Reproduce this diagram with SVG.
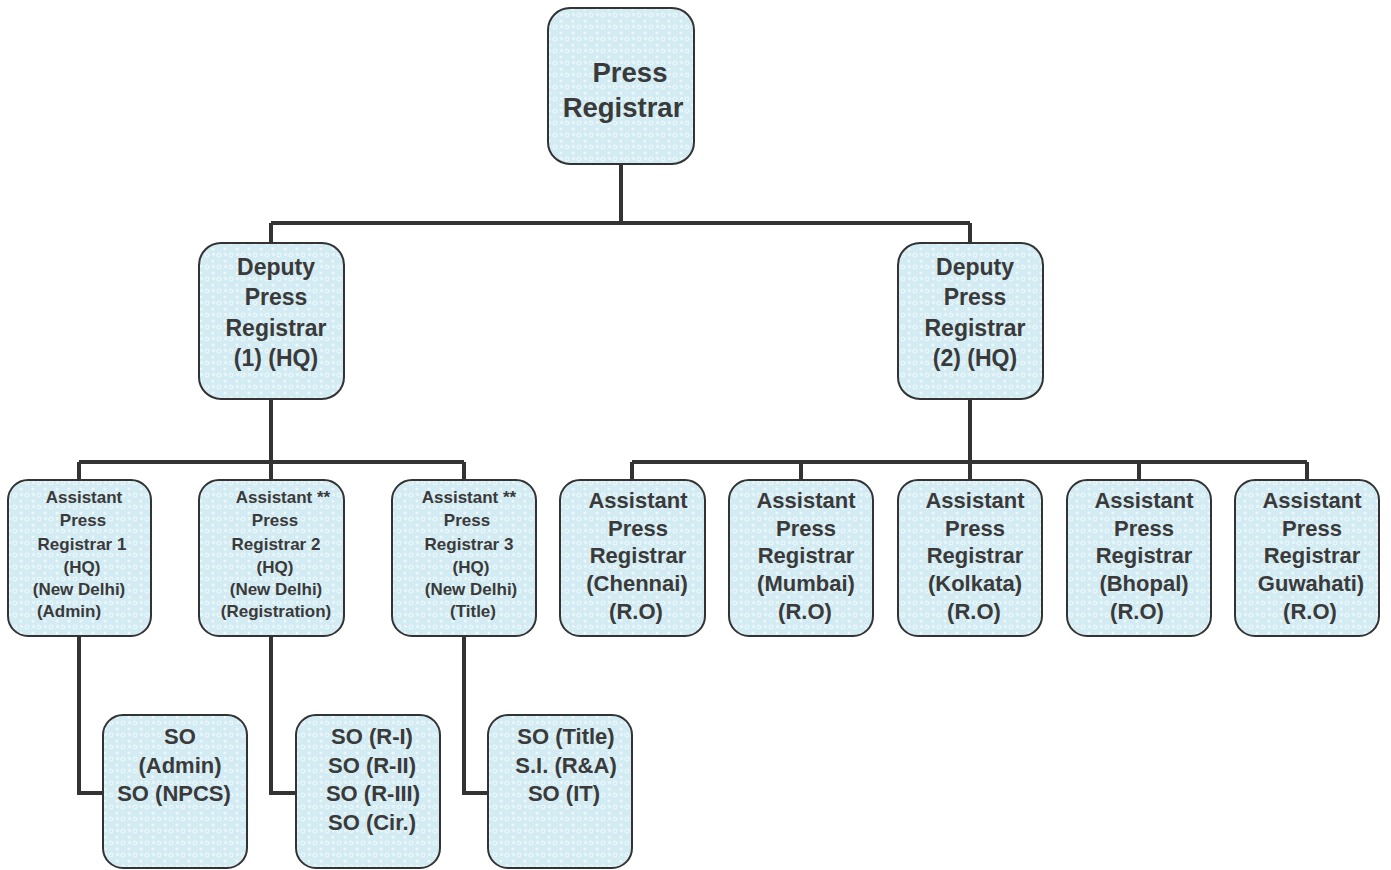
<svg xmlns="http://www.w3.org/2000/svg" width="1391" height="870" viewBox="0 0 1391 870">
<defs>
<pattern id="pat" width="12" height="12" patternUnits="userSpaceOnUse">
<rect width="12" height="12" fill="#d3ebf2"/>
<circle cx="3" cy="3" r="2" fill="none" stroke="#f2fafc" stroke-width="1"/>
<circle cx="9" cy="9" r="1.6" fill="#eef8fb"/>
<rect x="8" y="1" width="3" height="3" rx="1" fill="#e8f5f9"/>
</pattern>
<style>
.n{fill:url(#pat);stroke:#333;stroke-width:2}
.t{font-family:"Liberation Sans",Arial,sans-serif;font-weight:bold;fill:#3a3a3a;text-anchor:middle}
.c{fill:none;stroke:#333;stroke-width:4}
</style>
</defs>
<rect width="1391" height="870" fill="#fff"/>
<g id="connectors" class="c">
<path d="M621 164V223M271 223H970M271 223V243M970 223V243"/>
<path d="M271 399V462M79 462H464M79 462V480M271 462V480M464 462V480"/>
<path d="M970 399V462M632 462H1307M632 462V480M801 462V480M970 462V480M1139 462V480M1307 462V480"/>
<path d="M79 636V793H103M271 636V793H296M464 636V793H488"/>
</g>
<g id="press-registrar">
<rect class="n" x="548" y="8" width="146" height="156" rx="22"/>
<text class="t" font-size="27.5"><tspan x="630" y="82">Press</tspan><tspan x="623" y="117">Registrar</tspan></text>
</g>
<g id="dpr1">
<rect class="n" x="199" y="243" width="145" height="156" rx="22"/>
<text class="t" font-size="23"><tspan x="276" y="275">Deputy</tspan><tspan x="276" y="305">Press</tspan><tspan x="276" y="336">Registrar</tspan><tspan x="276" y="366">(1) (HQ)</tspan></text>
</g>
<g id="dpr2">
<rect class="n" x="898" y="243" width="145" height="156" rx="22"/>
<text class="t" font-size="23"><tspan x="975" y="275">Deputy</tspan><tspan x="975" y="305">Press</tspan><tspan x="975" y="336">Registrar</tspan><tspan x="975" y="366">(2) (HQ)</tspan></text>
</g>
<g id="apr1">
<rect class="n" x="8" y="480" width="143" height="156" rx="20"/>
<text class="t" font-size="17"><tspan x="84" y="503">Assistant</tspan><tspan x="83" y="526">Press</tspan><tspan x="82" y="550">Registrar 1</tspan><tspan x="82" y="573">(HQ)</tspan><tspan x="79" y="595">(New Delhi)</tspan><tspan x="69" y="617">(Admin)</tspan></text>
</g>
<g id="apr2">
<rect class="n" x="199" y="480" width="145" height="156" rx="20"/>
<text class="t" font-size="17"><tspan x="283" y="503">Assistant **</tspan><tspan x="275" y="526">Press</tspan><tspan x="276" y="550">Registrar 2</tspan><tspan x="275" y="573">(HQ)</tspan><tspan x="276" y="595">(New Delhi)</tspan><tspan x="276" y="617">(Registration)</tspan></text>
</g>
<g id="apr3">
<rect class="n" x="392" y="480" width="144" height="156" rx="20"/>
<text class="t" font-size="17"><tspan x="469" y="503">Assistant **</tspan><tspan x="467" y="526">Press</tspan><tspan x="469" y="550">Registrar 3</tspan><tspan x="471" y="573">(HQ)</tspan><tspan x="471" y="595">(New Delhi)</tspan><tspan x="473" y="617">(Title)</tspan></text>
</g>
<g id="apr-chennai">
<rect class="n" x="560" y="480" width="145" height="156" rx="20"/>
<text class="t" font-size="22"><tspan x="638" y="508">Assistant</tspan><tspan x="638" y="536">Press</tspan><tspan x="638" y="563">Registrar</tspan><tspan x="637" y="591">(Chennai)</tspan><tspan x="636" y="619">(R.O)</tspan></text>
</g>
<g id="apr-mumbai">
<rect class="n" x="729" y="480" width="144" height="156" rx="20"/>
<text class="t" font-size="22"><tspan x="806" y="508">Assistant</tspan><tspan x="806" y="536">Press</tspan><tspan x="806" y="563">Registrar</tspan><tspan x="806" y="591">(Mumbai)</tspan><tspan x="805" y="619">(R.O)</tspan></text>
</g>
<g id="apr-kolkata">
<rect class="n" x="898" y="480" width="144" height="156" rx="20"/>
<text class="t" font-size="22"><tspan x="975" y="508">Assistant</tspan><tspan x="975" y="536">Press</tspan><tspan x="975" y="563">Registrar</tspan><tspan x="975" y="591">(Kolkata)</tspan><tspan x="974" y="619">(R.O)</tspan></text>
</g>
<g id="apr-bhopal">
<rect class="n" x="1067" y="480" width="144" height="156" rx="20"/>
<text class="t" font-size="22"><tspan x="1144" y="508">Assistant</tspan><tspan x="1144" y="536">Press</tspan><tspan x="1144" y="563">Registrar</tspan><tspan x="1144" y="591">(Bhopal)</tspan><tspan x="1137" y="619">(R.O)</tspan></text>
</g>
<g id="apr-guwahati">
<rect class="n" x="1235" y="480" width="144" height="156" rx="20"/>
<text class="t" font-size="22"><tspan x="1312" y="508">Assistant</tspan><tspan x="1312" y="536">Press</tspan><tspan x="1312" y="563">Registrar</tspan><tspan x="1311" y="591">Guwahati)</tspan><tspan x="1310" y="619">(R.O)</tspan></text>
</g>
<g id="so-admin">
<rect class="n" x="103" y="715" width="144" height="153" rx="20"/>
<text class="t" font-size="22"><tspan x="180" y="744">SO</tspan><tspan x="180" y="773">(Admin)</tspan><tspan x="174" y="801">SO (NPCS)</tspan></text>
</g>
<g id="so-reg">
<rect class="n" x="296" y="715" width="144" height="153" rx="20"/>
<text class="t" font-size="22"><tspan x="372" y="744">SO (R-I)</tspan><tspan x="372" y="773">SO (R-II)</tspan><tspan x="373" y="801">SO (R-III)</tspan><tspan x="372" y="830">SO (Cir.)</tspan></text>
</g>
<g id="so-title">
<rect class="n" x="488" y="715" width="144" height="153" rx="20"/>
<text class="t" font-size="22"><tspan x="566" y="744">SO (Title)</tspan><tspan x="566" y="773">S.I. (R&amp;A)</tspan><tspan x="564" y="801">SO (IT)</tspan></text>
</g>
</svg>
